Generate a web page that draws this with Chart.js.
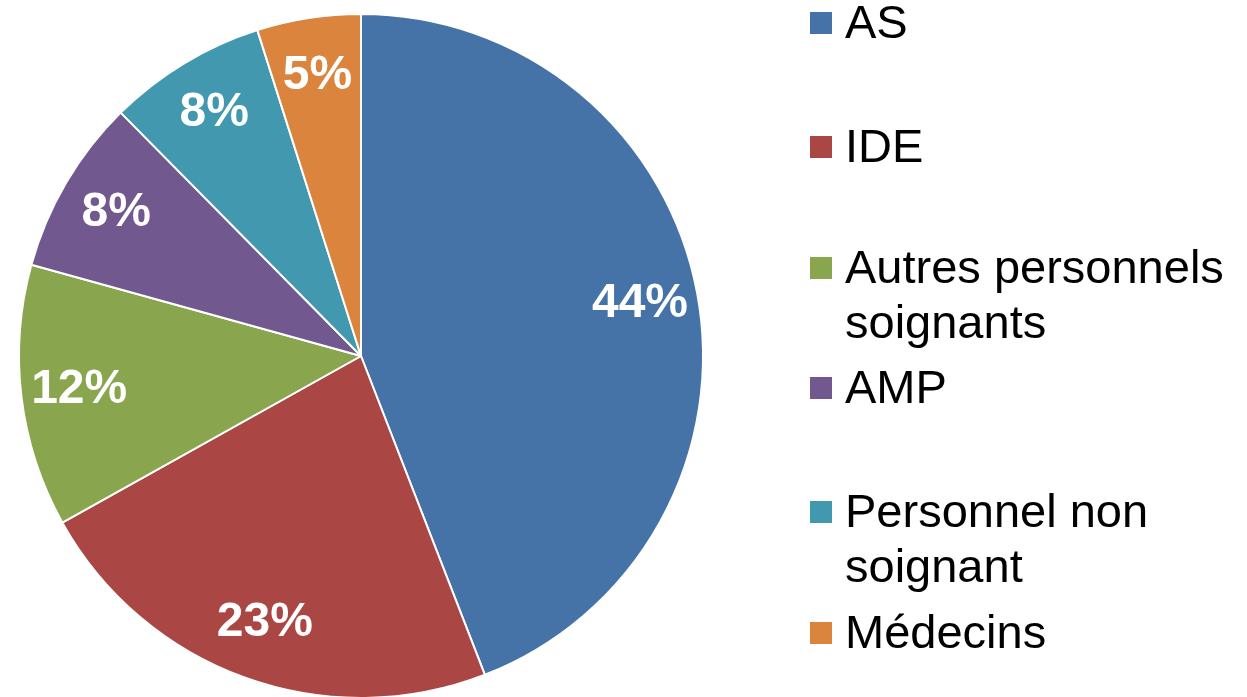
<!DOCTYPE html>
<html>
<head>
<meta charset="utf-8">
<script src="https://cdn.jsdelivr.net/npm/chart.js@4/dist/chart.umd.min.js"></script>
<style>
  html,body{margin:0;padding:0;background:#fff;overflow:hidden;width:1247px;height:697px;}
  canvas{display:block;}
</style>
</head>
<body>
<canvas id="chartPie" width="1247" height="700"></canvas>
<script>
/* data */
const categories = ['AS','IDE','Autres personnels soignants','AMP','Personnel non soignant','Médecins'];
const legendLines = [['AS'],['IDE'],['Autres personnels','soignants'],['AMP'],['Personnel non','soignant'],['Médecins']];
const values = [44.1, 22.8, 12.4, 8.3, 7.5, 4.9];
const shownPct = ['44%','23%','12%','8%','8%','5%'];
const colors = ['#4572A7','#AA4643','#89A54E','#71588F','#4198AF','#DB843D'];

/* labels inside slices */
const sliceLabels = {
  id:'sliceLabels',
  afterDatasetsDraw(chart){
    const ctx = chart.ctx;
    const meta = chart.getDatasetMeta(0);
    ctx.save();
    ctx.fillStyle = '#fff';
    ctx.font = 'bold 48px "Liberation Sans", Arial, sans-serif';
    ctx.textAlign = 'center'; ctx.textBaseline = 'middle';
    meta.data.forEach((arc,i)=>{
      const mid = (arc.startAngle + arc.endAngle)/2;
      const r = arc.outerRadius*0.83;
      ctx.fillText(shownPct[i], arc.x + Math.cos(mid)*r, arc.y + Math.sin(mid)*r);
    });
    ctx.restore();
  }
};

/* legend on the right, drawn by hand so lines can wrap */
const sideLegend = {
  id:'sideLegend',
  afterDraw(chart){
    const ctx = chart.ctx;
    const baselines = [38, 162, 283, 403, 527, 648];
    ctx.save();
    ctx.font = '47px "Liberation Sans", Arial, sans-serif';
    ctx.textBaseline = 'alphabetic'; ctx.textAlign = 'left';
    legendLines.forEach((lines,i)=>{
      const y = baselines[i];
      ctx.fillStyle = colors[i];
      ctx.fillRect(810, y-26, 22, 22);
      ctx.fillStyle = '#000';
      lines.forEach((t,j)=> ctx.fillText(t, 845, y + j*55));
    });
    ctx.restore();
  }
};

new Chart(document.getElementById('chartPie').getContext('2d'), {
  type:'pie',
  data:{
    labels: categories,
    datasets:[{ data: values, backgroundColor: colors, borderColor:'#fff', borderWidth:2 }]
  },
  options:{
    responsive:false,
    animation:false,
    layout:{ padding:{ left:18, right:543, top:13, bottom:1 } },
    plugins:{ legend:{display:false}, tooltip:{enabled:false} }
  },
  plugins:[sliceLabels, sideLegend]
});
</script>
</body>
</html>
